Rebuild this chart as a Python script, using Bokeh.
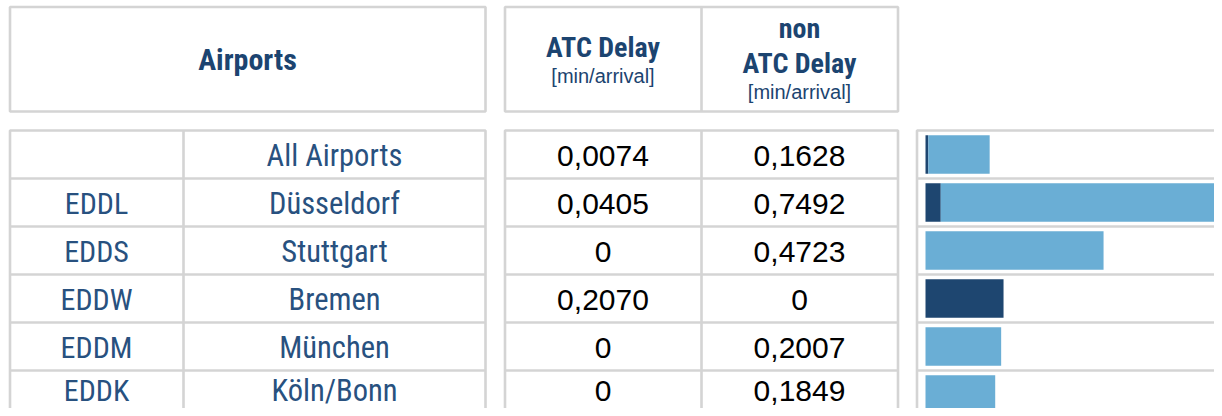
from bokeh.plotting import figure
from bokeh.models import Range1d, ColumnDataSource
from bokeh.core.properties import value
from bokeh.embed import file_html
from bokeh.resources import INLINE

# ---------------- data ----------------
codes = ["", "EDDL", "EDDS", "EDDW", "EDDM", "EDDK"]
names = ["All Airports", "Düsseldorf", "Stuttgart", "Bremen", "München", "Köln/Bonn"]
atc_delay = [0.0074, 0.0405, 0.0, 0.2070, 0.0, 0.0]
non_atc_delay = [0.1628, 0.7492, 0.4723, 0.0, 0.2007, 0.1849]
header_airports = "Airports"
header_atc = ["ATC Delay", "[min/arrival]"]
header_non = ["non", "ATC Delay", "[min/arrival]"]

# ---------------- style ----------------
W, H = 1214, 408
GRID = "#d4d4d4"
HEAD_BLUE = "#1c4470"
BODY_BLUE = "#28517f"
DARK = "#1e4670"
LIGHT = "#6aaed5"
COND = value("Roboto Condensed")
SANS = value("Liberation Sans")

ROW_TOP, ROW_H = 130, 48


def sy(px):
    """page pixel row -> row units"""
    return (px - (ROW_TOP + ROW_H / 2)) / ROW_H


def fmt(v):
    return "0" if v == 0 else f"{v:.4f}".replace(".", ",")


idx = list(range(len(names)))
# text offset in px; the last row is nudged up so it stays inside the canvas
yoff = [1] * (len(idx) - 1) + [-4]
src = ColumnDataSource(dict(
    idx=idx, code=codes, name=names,
    atc=atc_delay, non=non_atc_delay,
    atc_txt=[fmt(v) for v in atc_delay],
    non_txt=[fmt(v) for v in non_atc_delay],
    yoff=yoff,
))

p = figure(width=W, height=H, output_backend="svg", toolbar_location=None,
           x_range=Range1d(0, W), y_range=Range1d(sy(H), sy(0)),
           x_axis_type=None, y_axis_type=None, min_border=0,
           min_border_left=0, min_border_right=0, min_border_top=0, min_border_bottom=0)
p.grid.visible = False
p.outline_line_color = None
p.background_fill_color = "white"
p.border_fill_color = "white"

# bar scale: value 0 at x=925, 377 px per min/arrival
BAR0, PXU = 925, 377.0
p.extra_x_ranges = {"val": Range1d((0 - BAR0) / PXU, (W - BAR0) / PXU)}

LW = 2.6
# header boxes
p.quad(left=[9.5, 504.5], right=[485, 897.5], top=[sy(6.5)] * 2, bottom=[sy(111)] * 2,
       fill_color=None, line_color=GRID, line_width=LW)
p.segment(x0=[701], x1=[701], y0=[sy(6.5)], y1=[sy(111)], line_color=GRID, line_width=LW)

# body boxes
BOT = sy(440)
p.quad(left=[9.5, 504.5, 916.5], right=[485, 897.5, 1260], top=[-0.5] * 3, bottom=[BOT] * 3,
       fill_color=None, line_color=GRID, line_width=LW)
p.segment(x0=[183, 701], x1=[183, 701], y0=[-0.5, -0.5], y1=[BOT, BOT],
          line_color=GRID, line_width=LW)
sep = [i + 0.5 for i in idx]
for (l, r) in [(9.5, 485), (504.5, 897.5), (916.5, 1260)]:
    p.segment(x0=[l] * len(sep), x1=[r] * len(sep), y0=sep, y1=sep,
              line_color=GRID, line_width=LW)

# stacked bars
p.hbar_stack(["atc", "non"], y="idx", height=0.8, source=src, x_range_name="val",
             fill_color=[DARK, LIGHT], line_color=None)

# body texts
common = dict(text_align="center", text_baseline="alphabetic", y_offset="yoff")
p.text(x=96, y="idx", text="code", source=src, text_font=COND, text_font_size="30px",
       text_color=BODY_BLUE, **common)
p.text(x=334, y="idx", text="name", source=src, text_font=COND, text_font_size="30.5px",
       text_color=BODY_BLUE, **common)
p.text(x=602.5, y="idx", text="atc_txt", source=src, text_font=SANS, text_font_size="30px",
       text_color="black", **common)
p.text(x=799, y="idx", text="non_txt", source=src, text_font=SANS, text_font_size="30px",
       text_color="black", **common)

# header texts
hc = dict(text_align="center", text_baseline="alphabetic", text_color=HEAD_BLUE)
p.text(x=[247], y=[sy(71 - 12)], text=[header_airports], text_font=COND,
       text_font_size="30px", text_font_style="bold", **hc)
p.text(x=[602.5], y=[sy(57 - 10)], text=[header_atc[0]], text_font=COND,
       text_font_size="28px", text_font_style="bold", **hc)
p.text(x=[602.5], y=[sy(82 - 7)], text=[header_atc[1]], text_font=SANS,
       text_font_size="20px", **hc)
p.text(x=[799], y=[sy(38 - 10)], text=[header_non[0]], text_font=COND,
       text_font_size="28px", text_font_style="bold", **hc)
p.text(x=[799], y=[sy(73 - 10)], text=[header_non[1]], text_font=COND,
       text_font_size="28px", text_font_style="bold", **hc)
p.text(x=[799], y=[sy(98 - 7)], text=[header_non[2]], text_font=SANS,
       text_font_size="20px", **hc)

open("out.html", "w").write(file_html(p, INLINE))
